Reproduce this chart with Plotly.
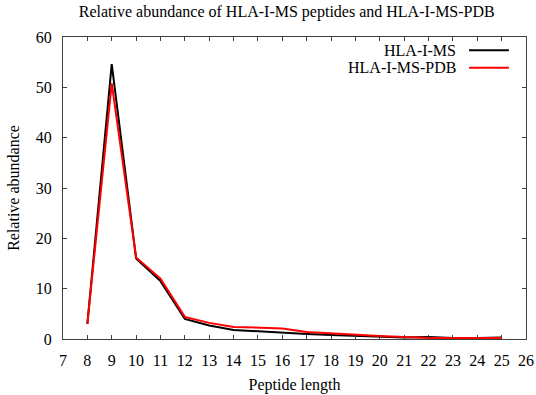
import plotly.graph_objects as go

lengths = list(range(8, 26))
hla_ms = [3.0, 54.6, 16.0, 11.5, 4.0, 2.7, 1.8, 1.5, 1.3, 1.0, 0.8, 0.6, 0.4, 0.3, 0.4, 0.2, 0.2, 0.3]
hla_ms_pdb = [3.0, 50.8, 16.2, 12.0, 4.4, 3.2, 2.4, 2.3, 2.1, 1.4, 1.1, 0.9, 0.6, 0.4, 0.2, 0.2, 0.2, 0.2]
names = ["HLA-I-MS", "HLA-I-MS-PDB"]
colors = ["#000000", "#ff0000"]

font = "Liberation Serif"

fig = go.Figure()
for name, vals, c in zip(names, [hla_ms, hla_ms_pdb], colors):
    fig.add_trace(go.Scatter(x=lengths, y=vals, mode="lines", name=name,
                             line=dict(color=c, width=2), showlegend=False))

# custom gnuplot-style legend (text left of sample line)
for i, (name, c) in enumerate(zip(names, colors)):
    yp = 0.956 - i * 0.058
    fig.add_annotation(x=0.853, y=yp, xref="paper", yref="paper", text=name,
                       showarrow=False, xanchor="right", yanchor="middle",
                       font=dict(family=font, size=16, color="black"))
    fig.add_shape(type="line", xref="paper", yref="paper",
                  x0=0.877, x1=0.963, y0=yp, y1=yp, line=dict(color=c, width=2))

axis_common = dict(showline=True, linecolor="#404040", linewidth=1, mirror="ticks",
                   ticks="inside", ticklen=4, tickcolor="#404040", showgrid=False,
                   zeroline=False, ticklabelstandoff=7, ticklabeloverflow="allow",
                   automargin=False,
                   tickfont=dict(family=font, size=16, color="black"))

fig.update_xaxes(range=[7, 26], tickmode="linear", tick0=7, dtick=1,
                 title=dict(text="Peptide length", font=dict(family=font, size=16, color="black"), standoff=10),
                 **axis_common)
fig.update_yaxes(range=[0, 60], tickmode="linear", tick0=0, dtick=10,
                 title=dict(text="Relative abundance", font=dict(family=font, size=16, color="black"), standoff=12),
                 **axis_common)

fig.update_layout(
    width=536, height=395,
    margin=dict(l=63, r=10, t=37, b=56, autoexpand=False),
    paper_bgcolor="white", plot_bgcolor="white",
    title=dict(text="Relative abundance of HLA-I-MS peptides and HLA-I-MS-PDB",
               x=0.535, xanchor="center", y=0.97, yanchor="middle", xref="container",
               font=dict(family=font, size=16, color="black")),
)

fig.write_html("out.html", config={"displayModeBar": False},
               post_script="document.body.style.margin='0';document.body.style.overflow='hidden';")
